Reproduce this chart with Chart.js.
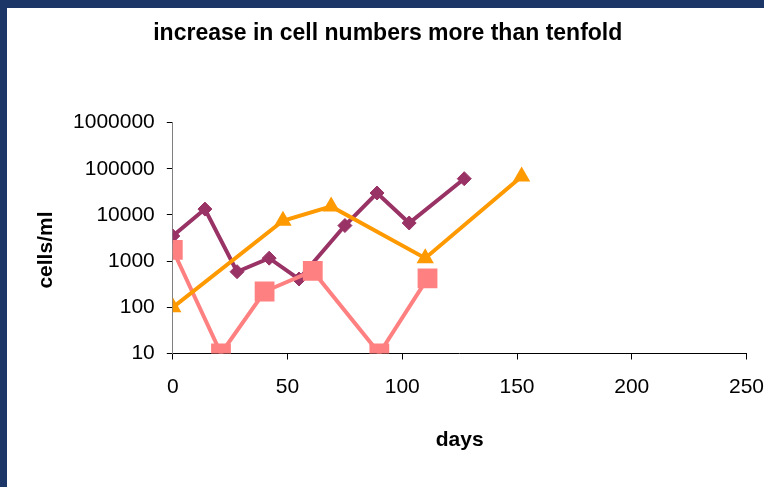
<!DOCTYPE html>
<html>
<head>
<meta charset="utf-8">
<script src="https://cdn.jsdelivr.net/npm/chart.js@4"></script>
<style>
  html, body { margin: 0; padding: 0; background: #ffffff; }
  .frame {
    position: absolute;
    left: 0;
    top: 0;
    width: 764px;
    height: 487px;
    box-sizing: border-box;
    border-top: 8px solid #1c3667;
    border-left: 7px solid #1c3667;
    background: #ffffff;
  }
  #chart { display: block; }
</style>
</head>
<body>
<div class="frame">
  <canvas id="chart" width="757" height="479"></canvas>
</div>
<script>
// days on which the samples were counted, one list per culture
const purpleDays = [0, 14, 28, 42, 55, 75, 89, 103, 127];
const purpleCells = [3500, 13400, 590, 1160, 410, 5900, 29900, 6700, 61000];

const pinkDays = [0, 21, 40, 61, 90, 111];
const pinkCells = [1760, 10, 220, 615, 10, 425];

const orangeDays = [0, 48, 69, 110, 152];
const orangeCells = [100, 7500, 15300, 1160, 68000];

// axis ticks
const xTicks = [0, 50, 100, 150, 200, 250];
const yTicks = [10, 100, 1000, 10000, 100000, 1000000];

const titleText = "increase in cell numbers more than tenfold";
const xTitle = "days";
const yTitle = "cells/ml";

// pairs two lists into the {x, y} points Chart.js wants
function toPoints(days, cells) {
  return days.map((d, i) => ({ x: d, y: cells[i] }));
}

// the y title sits a bit below the middle of the axis in the original,
// so it is drawn by hand next to the y scale
const yTitlePlugin = {
  id: "yTitle",
  afterDraw(chart) {
    const c = chart.ctx;
    const area = chart.chartArea;
    const yScale = chart.scales.y;
    c.save();
    c.translate(yScale.left + 17, (area.top + area.bottom) / 2 + 12);
    c.rotate(-Math.PI / 2);
    c.font = "bold 21px 'Liberation Sans'";
    c.fillStyle = "#000000";
    c.textAlign = "center";
    c.textBaseline = "middle";
    c.fillText(yTitle, 0, 0);
    c.restore();
  },
};

const ctx = document.querySelector("#chart");

const chart = new Chart(ctx, {
  type: "line",
  data: {
    datasets: [
      {
        label: "culture 1",
        data: toPoints(purpleDays, purpleCells),
        borderColor: "#993366",
        backgroundColor: "#993366",
        borderWidth: 4,
        pointStyle: "rectRot",
        pointRadius: 7,
        pointBorderWidth: 1,
        order: 3,
      },
      {
        label: "culture 2",
        data: toPoints(pinkDays, pinkCells),
        borderColor: "#ff8080",
        backgroundColor: "#ff8080",
        borderWidth: 4,
        pointStyle: "rect",
        pointRadius: 14,
        pointBorderWidth: 0,
        order: 2,
      },
      {
        label: "culture 3",
        data: toPoints(orangeDays, orangeCells),
        borderColor: "#ff9900",
        backgroundColor: "#ff9900",
        borderWidth: 4,
        pointStyle: "triangle",
        pointRadius: 10,
        pointBorderWidth: 0,
        order: 1,
      },
    ],
  },
  options: {
    responsive: false,
    animation: false,
    layout: {
      padding: { left: 22, right: 17.5, top: 0, bottom: 0 },
    },
    plugins: {
      legend: { display: false },
      tooltip: { enabled: false },
      title: {
        display: true,
        text: titleText,
        color: "#000000",
        font: { family: "Liberation Sans", size: 23, weight: "bold" },
        padding: { top: 12, bottom: 75 },
      },
    },
    scales: {
      x: {
        type: "linear",
        min: 0,
        max: 250,
        afterBuildTicks: (scale) => {
          scale.ticks = xTicks.map((v) => ({ value: v }));
        },
        afterFit: (scale) => {
          scale.height = 133.5;
          // let the "250" label hang into the right margin
          scale.paddingLeft = 0;
          scale.paddingRight = 0;
        },
        grid: {
          drawOnChartArea: false,
          tickLength: 6,
          tickColor: "#000000",
          tickWidth: 1,
        },
        border: { display: true, color: "#000000", width: 1 },
        ticks: {
          color: "#000000",
          padding: 15,
          maxRotation: 0,
          font: { family: "Liberation Sans", size: 21 },
        },
        title: {
          display: true,
          text: xTitle,
          color: "#000000",
          font: { family: "Liberation Sans", size: 21, weight: "bold" },
          padding: { top: 0, bottom: 34 },
        },
      },
      y: {
        type: "logarithmic",
        min: 10,
        max: 1000000,
        afterBuildTicks: (scale) => {
          scale.ticks = yTicks.map((v) => ({ value: v }));
        },
        afterFit: (scale) => {
          scale.width = 143.8;
        },
        grid: {
          drawOnChartArea: false,
          tickLength: 6,
          tickColor: "#000000",
          tickWidth: 1,
        },
        border: { display: true, color: "#808080", width: 1 },
        ticks: {
          color: "#000000",
          padding: 12,
          font: { family: "Liberation Sans", size: 21 },
          callback: (value) => String(value),
        },
      },
    },
  },
  plugins: [yTitlePlugin],
});
</script>
</body>
</html>
